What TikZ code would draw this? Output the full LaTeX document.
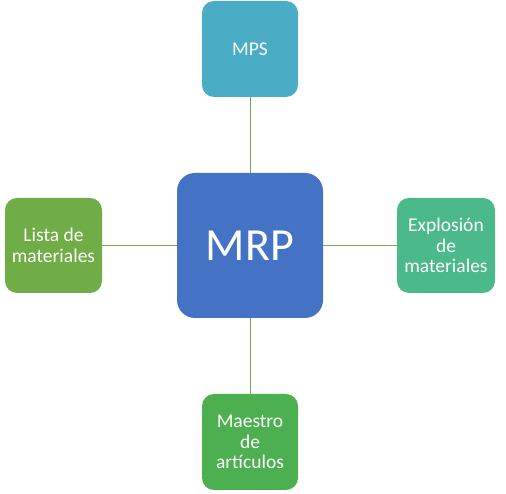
\documentclass[tikz,border=0pt]{standalone}
\usepackage{fontspec}
\setmainfont{Carlito}
\definecolor{mrpblue}{RGB}{68,114,196}
\definecolor{mpsteal}{RGB}{75,172,198}
\definecolor{listagreen}{RGB}{112,173,71}
\definecolor{explgreen}{RGB}{76,185,138}
\definecolor{maestrogreen}{RGB}{76,175,80}
\definecolor{linkgreen}{RGB}{112,173,71}

\begin{document}
\begin{tikzpicture}[x=1pt, y=1pt,
    box/.style={rounded corners=12pt, minimum width=96pt, minimum height=96pt,
        text=white, align=center, font=\fontsize{19.5}{20.5}\selectfont, inner sep=2pt},
    link/.style={draw=linkgreen, line width=0.7pt}]
\useasboundingbox (0,0) rectangle (506,494);

% Center
\node[box, fill=mrpblue, rounded corners=18pt, minimum width=146pt, minimum height=145pt,
    font=\fontsize{46}{50}\selectfont] (mrp) at (250,248.5) {MRP};

% Satellites
\node[box, fill=mpsteal] (mps) at (250,445) {MPS};
\node[box, fill=listagreen, minimum width=97pt, minimum height=95pt] (lista) at (53.5,248.5) {Lista de\\materiales};
\node[box, fill=explgreen, minimum width=98pt, minimum height=95pt] (expl) at (446,248.5) {Explosión\\de\\materiales};
\node[box, fill=maestrogreen] (maestro) at (250,52) {Maestro\\de\\artículos};

% Links
\draw[link] (mps) -- (mrp);
\draw[link] (lista) -- (mrp);
\draw[link] (expl) -- (mrp);
\draw[link] (maestro) -- (mrp);
\end{tikzpicture}
\end{document}
